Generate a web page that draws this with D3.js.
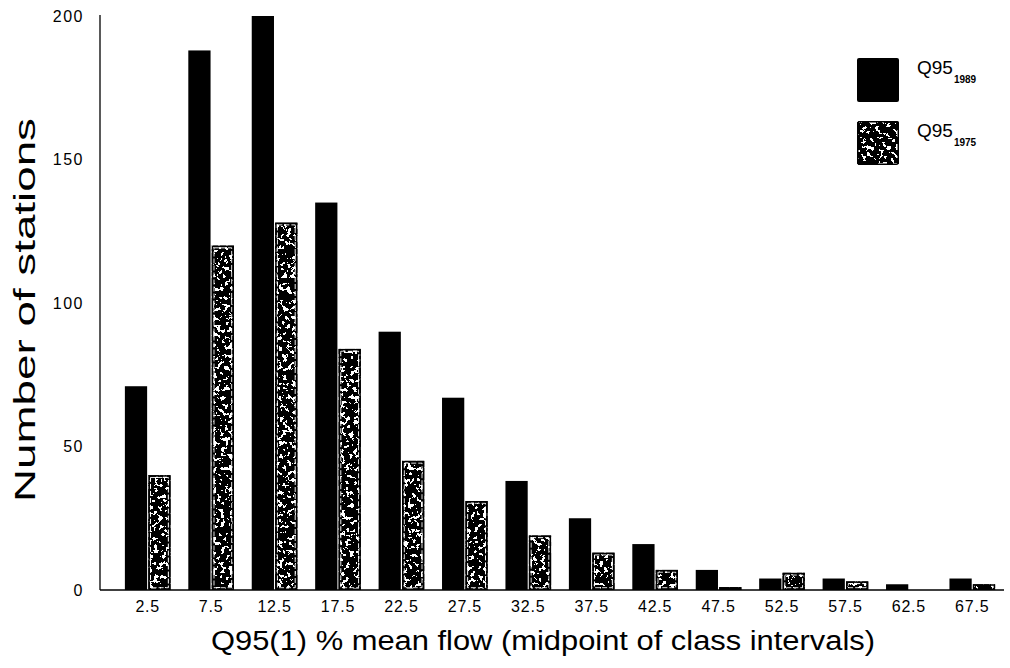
<!DOCTYPE html>
<html>
<head>
<meta charset="utf-8">
<script src="https://cdn.jsdelivr.net/npm/d3@7"></script>
<style>
  html, body { margin: 0; padding: 0; background: #fff; }
  svg { display: block; font-family: "Liberation Sans", Arial, Helvetica, sans-serif; }
</style>
</head>
<body>
<svg id="chart" width="1010" height="668"></svg>
<script>
// Class midpoints (% of mean flow) and station counts per class
const categories = ["2.5", "7.5", "12.5", "17.5", "22.5", "27.5", "32.5", "37.5", "42.5", "47.5", "52.5", "57.5", "62.5", "67.5"];
const q95_1989 = [71, 188, 200, 135, 90, 67, 38, 25, 16, 7, 4, 4, 2, 4];
const q95_1975 = [40, 120, 128, 84, 45, 31, 19, 13, 7, 1, 6, 3, 0, 2];
const seriesKeys = ["1989", "1975"];
const yTicks = [0, 50, 100, 150, 200];

const svg = d3.select("#chart");

// Mottled texture used for the 1975 bars
const defs = svg.append("defs");
const f = defs.append("filter").attr("id", "speckle")
  .attr("x", "0").attr("y", "0").attr("width", "1").attr("height", "1");
f.append("feTurbulence").attr("type", "fractalNoise").attr("baseFrequency", "0.24")
  .attr("numOctaves", 3).attr("seed", 7).attr("result", "noise");
f.append("feColorMatrix").attr("in", "noise").attr("type", "matrix")
  .attr("values", "1 0 0 0 0  1 0 0 0 0  1 0 0 0 0  0 0 0 0 1").attr("result", "grey");
const ct = f.append("feComponentTransfer").attr("in", "grey").attr("result", "thr");
["feFuncR", "feFuncG", "feFuncB"].forEach(n =>
  ct.append(n).attr("type", "discrete")
    .attr("tableValues", "0 0 0 0 0 0 0 0 0 0 0 0 1 1 1 1 1 1 1 1"));
f.append("feComposite").attr("in", "thr").attr("in2", "SourceGraphic").attr("operator", "in");

const x0 = d3.scaleBand().domain(categories).range([116, 1004])
  .paddingInner(0.28).paddingOuter(0.14);
const x1 = d3.scaleBand().domain(seriesKeys).range([0, x0.bandwidth()]).paddingInner(0.05);
const y = d3.scaleLinear().domain([0, 200]).range([590, 16]);

const rows = categories.map((c, i) => ({ cat: c, v1989: q95_1989[i], v1975: q95_1975[i] }));

// 1989 bars: solid black
svg.append("g").selectAll("rect").data(rows).join("rect")
  .attr("x", d => x0(d.cat) + x1("1989"))
  .attr("y", d => y(d.v1989))
  .attr("width", x1.bandwidth())
  .attr("height", d => y(0) - y(d.v1989))
  .attr("fill", "#000");

// 1975 bars: mottled fill, black outline with a light inner rim
const g75 = svg.append("g");
g75.selectAll("rect.fill").data(rows).join("rect").attr("class", "fill")
  .attr("x", d => x0(d.cat) + x1("1975"))
  .attr("y", d => y(d.v1975))
  .attr("width", x1.bandwidth())
  .attr("height", d => y(0) - y(d.v1975))
  .attr("fill", "#000")
  .attr("filter", "url(#speckle)");
g75.selectAll("rect.rim").data(rows.filter(d => y(0) - y(d.v1975) > 6)).join("rect").attr("class", "rim")
  .attr("x", d => x0(d.cat) + x1("1975") + 2.2)
  .attr("y", d => y(d.v1975) + 2.2)
  .attr("width", x1.bandwidth() - 4.4)
  .attr("height", d => y(0) - y(d.v1975) - 4.4)
  .attr("fill", "none")
  .attr("stroke", "#fff")
  .attr("stroke-width", 1)
  .attr("stroke-dasharray", "5 2");
g75.selectAll("rect.edge").data(rows).join("rect").attr("class", "edge")
  .attr("x", d => x0(d.cat) + x1("1975") + 0.75)
  .attr("y", d => y(d.v1975) + 0.75)
  .attr("width", x1.bandwidth() - 1.5)
  .attr("height", d => Math.max(0, y(0) - y(d.v1975) - 1.5))
  .attr("fill", "none")
  .attr("stroke", "#000")
  .attr("stroke-width", 1.5);

// Axis lines
svg.append("line").attr("x1", 100).attr("x2", 100).attr("y1", 15).attr("y2", y(0))
  .attr("stroke", "#000").attr("stroke-width", 1.3);
svg.append("line").attr("x1", 100).attr("x2", 1004).attr("y1", y(0)).attr("y2", y(0))
  .attr("stroke", "#000").attr("stroke-width", 1.5);

// Y tick labels
const yAxis = d3.axisLeft(y).tickValues(yTicks).tickSize(0).tickPadding(0);
const gy = svg.append("g").attr("transform", "translate(84,0)").call(yAxis);
gy.select(".domain").remove();
gy.selectAll("text").attr("font-size", 16).attr("fill", "#000")
  .attr("font-family", "Liberation Sans, Arial, sans-serif")
  .attr("letter-spacing", 1.5);

// X tick labels
const xAxis = d3.axisBottom(x0).tickSize(0).tickPadding(0);
const gx = svg.append("g").attr("transform", "translate(0,601)").call(xAxis);
gx.select(".domain").remove();
gx.selectAll("text").attr("font-size", 16).attr("fill", "#000")
  .attr("font-family", "Liberation Sans, Arial, sans-serif")
  .attr("letter-spacing", 0.8);

// Axis titles
svg.append("text").attr("x", 543).attr("y", 650).attr("text-anchor", "middle")
  .attr("font-size", 27).attr("textLength", 664).attr("lengthAdjust", "spacingAndGlyphs")
  .text("Q95(1) % mean flow (midpoint of class intervals)");
svg.append("text").attr("transform", "translate(35,310) rotate(-90)").attr("text-anchor", "middle")
  .attr("font-size", 29).attr("textLength", 384).attr("lengthAdjust", "spacingAndGlyphs")
  .text("Number of stations");

// Legend
const legend = [
  { key: "1989", top: 58, textured: false },
  { key: "1975", top: 121, textured: true }
];
const lg = svg.append("g");
legend.forEach(l => {
  lg.append("rect").attr("x", 857).attr("y", l.top).attr("width", 42).attr("height", 44).attr("rx", 2)
    .attr("fill", "#000").attr("filter", l.textured ? "url(#speckle)" : null);
  if (l.textured) {
    lg.append("rect").attr("x", 857.75).attr("y", l.top + 0.75).attr("width", 40.5).attr("height", 42.5)
      .attr("rx", 2).attr("fill", "none").attr("stroke", "#000").attr("stroke-width", 1.5);
  }
  const t = lg.append("text").attr("x", 917).attr("y", l.top + 16).attr("font-size", 19);
  t.append("tspan").text("Q95");
  t.append("tspan").attr("dy", 9).attr("dx", 1).attr("font-size", 10).attr("font-weight", "bold")
    .text(l.key);
});
</script>
</body>
</html>
